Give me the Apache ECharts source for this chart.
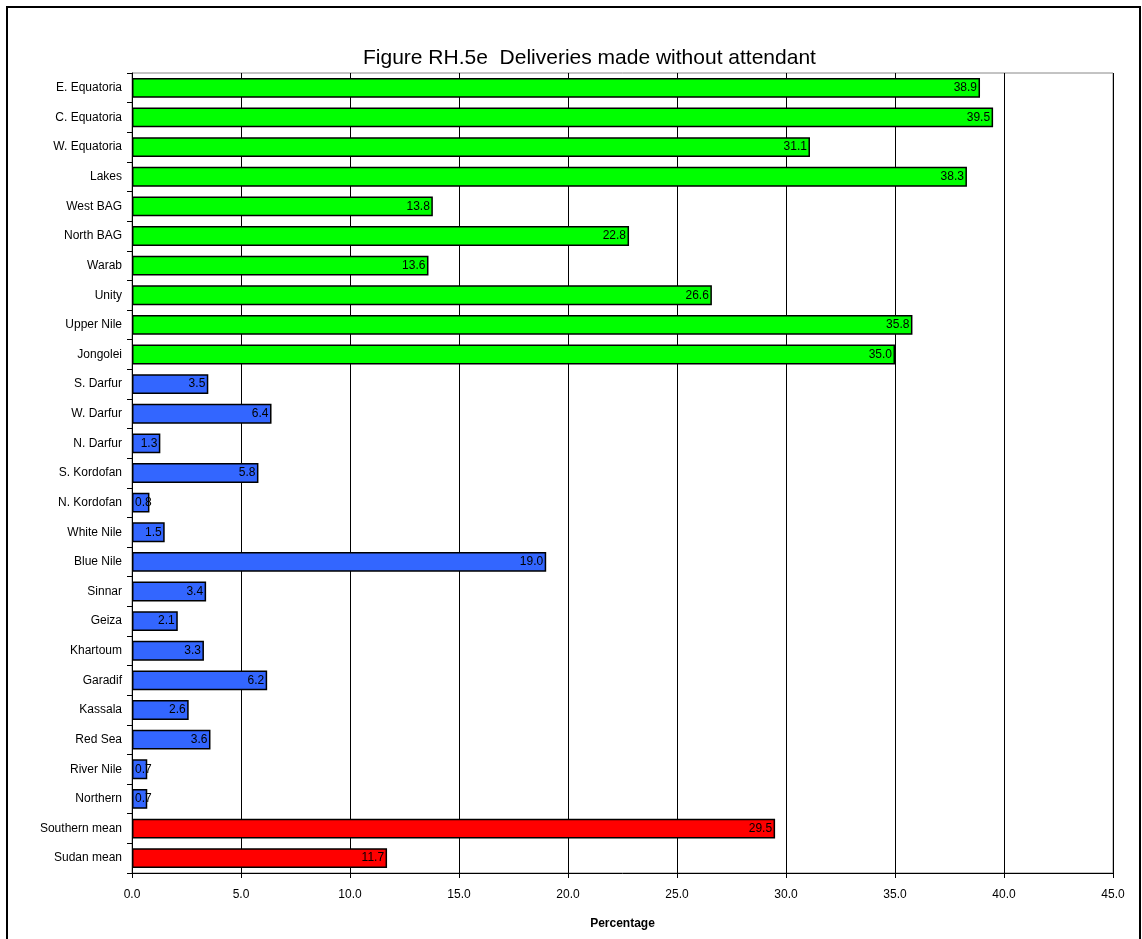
<!DOCTYPE html>
<html>
<head>
<meta charset="utf-8">
<script src="https://cdn.jsdelivr.net/npm/echarts@6/dist/echarts.min.js"></script>
<style>
html,body{margin:0;padding:0;background:#fff;}
#c{width:1142px;height:939px;}
</style>
</head>
<body>
<div id="c"></div>
<script>
const categories = ["E. Equatoria","C. Equatoria","W. Equatoria","Lakes","West BAG","North BAG","Warab","Unity","Upper Nile","Jongolei","S. Darfur","W. Darfur","N. Darfur","S. Kordofan","N. Kordofan","White Nile","Blue Nile","Sinnar","Geiza","Khartoum","Garadif","Kassala","Red Sea","River Nile","Northern","Southern mean","Sudan mean"];
const values = [38.9,39.5,31.1,38.3,13.8,22.8,13.6,26.6,35.8,35.0,3.5,6.4,1.3,5.8,0.8,1.5,19.0,3.4,2.1,3.3,6.2,2.6,3.6,0.7,0.7,29.5,11.7];
const groups = ["south","south","south","south","south","south","south","south","south","south","north","north","north","north","north","north","north","north","north","north","north","north","north","north","north","mean","mean"];
const groupColors = {south:"#00FF00", north:"#3366FF", mean:"#FF0000"};

const chart = echarts.init(document.getElementById('c'), null, {renderer:'canvas'});
const font = 'Arial, "Liberation Sans", sans-serif';
chart.setOption({
  animation:false,
  backgroundColor:'#fff',
  title:{
    text:'Figure RH.5e  Deliveries made without attendant',
    left:358, top:43,
    textStyle:{fontFamily:font, fontSize:21, fontWeight:'normal', color:'#000'}
  },
  graphic:[{
    type:'rect', shape:{x:7,y:7,width:1133,height:940},
    style:{fill:'none', stroke:'#000', lineWidth:2}, silent:true
  }],
  grid:{left:132, right:29, top:73, bottom:66, show:true, borderColor:'#888', borderWidth:1, backgroundColor:'transparent'},
  xAxis:{
    type:'value', min:0, max:45, interval:5,
    name:'Percentage', nameLocation:'middle', nameGap:45,
    nameTextStyle:{fontFamily:font, fontSize:12, fontWeight:'bold', color:'#000'},
    axisLine:{show:true, lineStyle:{color:'#000', width:1}},
    axisTick:{show:true, length:5, lineStyle:{color:'#000'}},
    axisLabel:{fontFamily:font, fontSize:12, color:'#000', margin:16, formatter:v=>v.toFixed(1)},
    splitLine:{show:true, lineStyle:{color:'#000', width:1}}
  },
  yAxis:{
    type:'category', data:categories, inverse:true,
    axisLine:{show:true, lineStyle:{color:'#000', width:1}},
    axisTick:{show:true, length:5, inside:false, lineStyle:{color:'#000'}},
    axisLabel:{fontFamily:font, fontSize:12, color:'#000', margin:10},
    splitLine:{show:false}
  },
  series:[{
    type:'bar',
    data: values.map((v,i)=>({
      value:v,
      itemStyle:{color:groupColors[groups[i]]},
      label: v < 1 ? {position:'insideLeft', distance:3} : undefined
    })),
    barCategoryGap:'33%',
    itemStyle:{borderColor:'#000', borderWidth:1.5},
    label:{show:true, position:'insideRight', distance:3, fontFamily:font, fontSize:12, color:'#000', formatter:p=>p.value.toFixed(1)}
  }]
});
</script>
</body>
</html>
